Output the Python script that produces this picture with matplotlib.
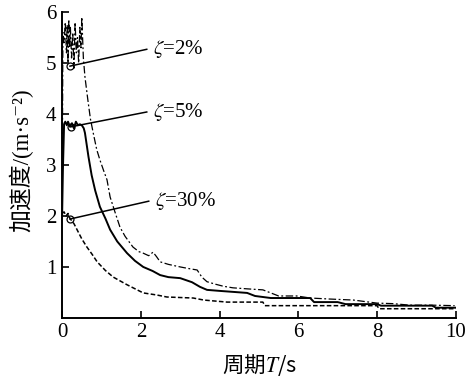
import matplotlib.pyplot as plt

plt.rcParams['mathtext.fontset'] = 'stix'
plt.rcParams['font.family'] = ['Liberation Serif', 'Noto Sans CJK SC', 'DejaVu Serif']

# ζ=2% (点划线)
t_2 = [0, 0.02, 0.05, 0.08, 0.11, 0.13, 0.15, 0.17, 0.19, 0.21, 0.24, 0.27, 0.30, 0.33,
       0.36, 0.39, 0.42, 0.45, 0.48, 0.50, 0.54, 0.58, 0.65, 0.72, 0.79, 0.88, 0.96,
       1.05, 1.14, 1.22, 1.35, 1.47, 1.6, 1.8, 1.95, 2.06, 2.2, 2.31, 2.4, 2.49, 2.7,
       3.0, 3.2, 3.43, 3.55, 3.68, 3.9, 4.1, 4.34, 4.7, 5.1, 5.5, 5.96, 6.3, 6.8, 7.4,
       8.0, 8.4, 8.83, 9.4, 9.97]
a_2 = [2.0, 5.6, 5.4, 5.8, 5.2, 5.75, 5.0, 5.85, 5.3, 5.7, 5.1, 5.6, 4.9, 5.8,
       5.2, 5.5, 5.0, 5.7, 5.3, 5.9, 5.1, 4.73, 4.3, 3.9, 3.63, 3.3, 3.1,
       2.9, 2.71, 2.37, 2.06, 1.78, 1.6, 1.39, 1.3, 1.27, 1.22, 1.29, 1.2, 1.10, 1.05,
       1.0, 0.97, 0.94, 0.8, 0.71, 0.66, 0.62, 0.59, 0.57, 0.55, 0.43, 0.43, 0.39, 0.37, 0.35,
       0.29, 0.28, 0.25, 0.25, 0.24]

# ζ=5% (实线)
t_5 = [0, 0.02, 0.05, 0.08, 0.12, 0.15, 0.2, 0.25, 0.3, 0.35, 0.4, 0.45, 0.5, 0.55,
       0.58, 0.67, 0.75, 0.84, 0.96, 1.1, 1.22, 1.4, 1.65, 1.85, 2.06, 2.3, 2.49, 2.7,
       3.0, 3.3, 3.5, 3.68, 4.0, 4.35, 4.7, 4.9, 5.3, 6.3, 6.4, 7.0, 7.2, 8.0, 8.1,
       9.4, 9.5, 10.0]
a_5 = [2.0, 2.9, 3.8, 3.85, 3.78, 3.85, 3.75, 3.82, 3.72, 3.85, 3.78, 3.8, 3.78, 3.72,
       3.63, 3.16, 2.8, 2.5, 2.18, 1.95, 1.73, 1.5, 1.27, 1.12, 1.0, 0.92, 0.84, 0.8,
       0.78, 0.7, 0.61, 0.55, 0.53, 0.51, 0.49, 0.43, 0.39, 0.39, 0.31, 0.31, 0.27, 0.27, 0.24,
       0.24, 0.2, 0.2]

# ζ=30% (虚线)
t_30 = [0, 0.05, 0.1, 0.15, 0.2, 0.3, 0.38, 0.5, 0.63, 0.76, 0.89, 1.1, 1.3, 1.65,
        2.06, 2.4, 2.66, 3.33, 3.6, 4.19, 5.1, 5.15, 8.0, 8.05, 10.0]
a_30 = [2.05, 2.08, 2.0, 2.05, 1.95, 1.85, 1.73, 1.55, 1.39, 1.25, 1.1, 0.93, 0.8, 0.65,
        0.49, 0.45, 0.41, 0.39, 0.35, 0.31, 0.31, 0.24, 0.24, 0.18, 0.18]

labels = [r'$\zeta$=2%', r'$\zeta$=5%', r'$\zeta$=30%']
marks_t = [0.2, 0.23, 0.2]
marks_a = [4.94, 3.75, 1.94]
text_t = [2.3, 2.3, 2.35]
text_a = [5.27, 4.04, 2.29]

fig = plt.figure(figsize=(4.67, 3.78), dpi=100)
ax = fig.add_axes([0.133, 0.159, 0.843, 0.809])

ax.plot(t_2, a_2, color='black', lw=0.9, dashes=(6, 2, 1.5, 2))
ax.plot(t_5, a_5, color='black', lw=1.4)
ax.plot(t_30, a_30, color='black', lw=1.1, dashes=(3, 1.5))

for lab, mt, ma, tt, ta in zip(labels, marks_t, marks_a, text_t, text_a):
    ax.plot(mt, ma, 'o', ms=5, mfc='none', mec='black', mew=0.9)
    ax.plot([mt, tt - 0.15], [ma, ta], color='black', lw=1.1)
    ax.text(tt, ta, lab, fontsize=15, va='center', ha='left')

ax.set_xlim(0, 10)
ax.set_ylim(0, 6)
ax.set_xticks([0, 2, 4, 6, 8, 10])
ax.set_yticks([1, 2, 3, 4, 5, 6])
ax.tick_params(direction='in', length=5, width=1.2, labelsize=15, pad=4)
for s in ['top', 'right']:
    ax.spines[s].set_visible(False)
for s in ['left', 'bottom']:
    ax.spines[s].set_linewidth(1.4)

ax.set_xlabel('周期$T$/s', fontsize=15.5, family='Noto Sans CJK SC')
ax.set_ylabel('加速度/(m·s⁻²)', fontsize=16.5)
ax.xaxis.set_label_coords(0.5, -0.112)
ax.yaxis.set_label_coords(-0.072, 0.516)

plt.savefig('out.png', dpi=100)
